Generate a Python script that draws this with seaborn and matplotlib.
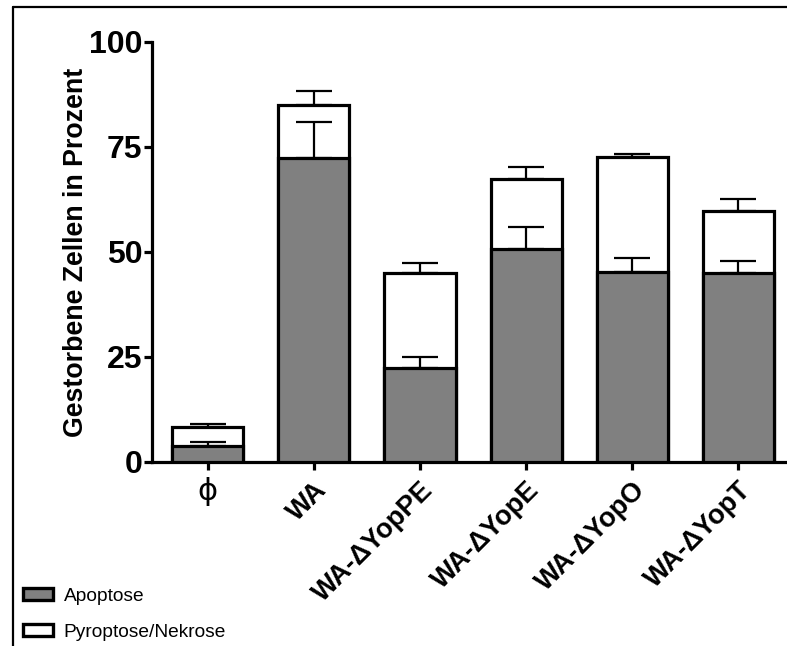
import matplotlib
matplotlib.use("Agg")
import matplotlib.pyplot as plt
import matplotlib.transforms as mtransforms
from matplotlib.patches import Patch
from matplotlib.lines import Line2D
import numpy as np
import pandas as pd
import seaborn as sns

# Dead cells (%) per strain, split into apoptosis and pyroptosis/necrosis
strains = ["\u03d5", "WA", "WA-\u0394YopPE", "WA-\u0394YopE", "WA-\u0394YopO", "WA-\u0394YopT"]
apoptose = [3.7, 72.3, 22.4, 50.6, 45.2, 44.9]
apoptose_err = [1.0, 8.6, 2.5, 5.3, 3.4, 3.0]
pyroptose = [4.5, 12.7, 22.5, 16.8, 27.3, 14.8]
total_err = [0.9, 3.4, 2.4, 2.9, 0.8, 2.9]
y_ticks = [0, 25, 50, 75, 100]

df = pd.DataFrame({
    "Stamm": strains,
    "Apoptose": apoptose,
    "Gesamt": np.array(apoptose) + np.array(pyroptose),
})

sns.set_style("white")
plt.rcParams["font.family"] = ["Liberation Sans", "DejaVu Sans"]
plt.rcParams["text.color"] = "black"
plt.rcParams["axes.labelcolor"] = "black"
plt.rcParams["xtick.color"] = "black"
plt.rcParams["ytick.color"] = "black"

fig = plt.figure(figsize=(7.87, 6.46), dpi=100)
ax = fig.add_axes([0.193, 0.285, 0.807, 0.65])

bar_w = 0.67
edge_lw = 2.3

# Whole bar (white) first, apoptosis part drawn over it
sns.barplot(data=df, x="Stamm", y="Gesamt", color="white", saturation=1,
            edgecolor="black", linewidth=edge_lw, width=bar_w, ax=ax, zorder=2)
sns.barplot(data=df, x="Stamm", y="Apoptose", color="#808080", saturation=1,
            edgecolor="black", linewidth=edge_lw, width=bar_w, ax=ax, zorder=3)

xpos = np.arange(len(strains))
zeros = np.zeros(len(strains))
ax.errorbar(xpos, df["Gesamt"], yerr=[zeros, total_err], fmt="none",
            ecolor="black", elinewidth=1.6, capsize=13, capthick=1.6, zorder=4)
ax.errorbar(xpos, df["Apoptose"], yerr=[zeros, apoptose_err], fmt="none",
            ecolor="black", elinewidth=1.6, capsize=13, capthick=1.6, zorder=4)

ax.set_ylim(0, 100)
ax.set_xlim(-0.528, 5.46)
ax.set_yticks(y_ticks)
ax.set_yticklabels([str(v) for v in y_ticks], fontsize=23, fontweight="bold", color="black",
                   family=["Liberation Sans Narrow", "Liberation Sans"])
ax.set_xlabel("")
ax.set_ylabel("Gestorbene Zellen in Prozent", fontsize=19.3, fontweight="bold",
              labelpad=0, color="black")

for side in ["top", "right"]:
    ax.spines[side].set_visible(False)
for side in ["left", "bottom"]:
    ax.spines[side].set_linewidth(2.3)
    ax.spines[side].set_color("black")

ax.tick_params(axis="both", direction="out", length=6, width=2.3, color="black",
               left=True, bottom=True)
ax.tick_params(axis="y", pad=1)

ax.set_xticks(xpos)
ax.set_xticklabels(strains)
labels = ax.get_xticklabels()
for i, lab in enumerate(labels):
    lab.set_color("black")
    if i == 0:
        lab.set_rotation(0)
        lab.set_fontsize(22)
        lab.set_fontweight("normal")
        lab.set_family(["DejaVu Sans"])
        lab.set_ha("center")
        lab.set_transform(lab.get_transform() +
                          mtransforms.ScaledTranslation(-11 / 100, 0, fig.dpi_scale_trans))
    else:
        lab.set_rotation(45)
        lab.set_rotation_mode("anchor")
        lab.set_ha("right")
        lab.set_va("top")
        lab.set_fontsize(19.5)
        lab.set_fontweight("bold")
        lab.set_transform(lab.get_transform() +
                          mtransforms.ScaledTranslation(-8 / 100, 3 / 100, fig.dpi_scale_trans))
ax.tick_params(axis="x", pad=5)

# Legend below the plot, at the left edge
handles = [
    Patch(facecolor="#808080", edgecolor="black", linewidth=2.4, label="Apoptose"),
    Patch(facecolor="white", edgecolor="black", linewidth=2.4, label="Pyroptose/Nekrose"),
]
leg = fig.legend(handles=handles, loc="lower left", bbox_to_anchor=(0.02, -0.004),
                 frameon=False, fontsize=13.8, handlelength=1.55, handleheight=0.62,
                 handletextpad=0.55, labelspacing=1.0, borderaxespad=0)
for t in leg.get_texts():
    t.set_color("black")

# Frame lines along the top and left edges of the figure
fig.add_artist(Line2D([0.016, 1.0], [0.989, 0.989], transform=fig.transFigure,
                      color="black", linewidth=1.6))
fig.add_artist(Line2D([0.016, 0.016], [0.0, 0.989], transform=fig.transFigure,
                      color="black", linewidth=1.6))

fig.savefig("out.png", dpi=100)
